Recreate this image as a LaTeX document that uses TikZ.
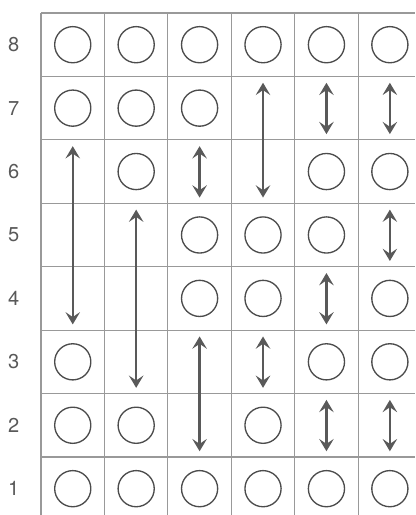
\documentclass[tikz,border=0pt]{standalone}
\usepackage{fontspec}
\setmainfont{TeX Gyre Heros}
\usetikzlibrary{arrows.meta}

\begin{document}
\begin{tikzpicture}[
    x=1cm, y=1cm,
    gridline/.style={black!40, line width=0.5pt},
    piece/.style={circle, draw=black!70, line width=0.6pt, minimum size=0.57cm, inner sep=0pt},
    movearrow/.style={{Stealth[length=5.5pt,width=6.5pt,inset=2.2pt]}-{Stealth[length=5.5pt,width=6.5pt,inset=2.2pt]},
        draw=black!65, line width=1pt},
    rowlabel/.style={font=\small, text=black!65}
]
\useasboundingbox (-0.647,0.085) rectangle (5.899,8.205);

% grid, open at the right and bottom
\foreach \i in {0,...,5} \draw[gridline] (\i,0.085) -- (\i,8);
\foreach \j in {1,...,8} \draw[gridline] (0,\j) -- (5.899,\j);

% row numbers
\foreach \j in {1,...,8}
    \node[rowlabel] (lab\j) at (-0.43,\j-0.5) {\j};

% circles: column / row
\foreach \c/\r in {
    1/8,2/8,3/8,4/8,5/8,6/8,
    1/7,2/7,3/7,
    2/6,5/6,6/6,
    3/5,4/5,5/5,
    3/4,4/4,6/4,
    1/3,5/3,6/3,
    1/2,2/2,4/2,
    1/1,2/1,3/1,4/1,5/1,6/1
} { \node[piece] (c\c\r) at (\c-0.5,\r-0.5) {}; }

% double arrows: column / top row / bottom row
\foreach \c/\t/\b [count=\k] in {
    1/6/4, 2/5/3, 3/6/6, 3/3/2, 4/7/6, 4/3/3,
    5/7/7, 5/4/4, 5/2/2, 6/7/7, 6/5/5, 6/2/2
} {
    \coordinate (top\k) at (\c-0.5,\t-0.1);
    \coordinate (bot\k) at (\c-0.5,\b-0.91);
    \draw[movearrow] (top\k) -- (bot\k);
}
\end{tikzpicture}
\end{document}
